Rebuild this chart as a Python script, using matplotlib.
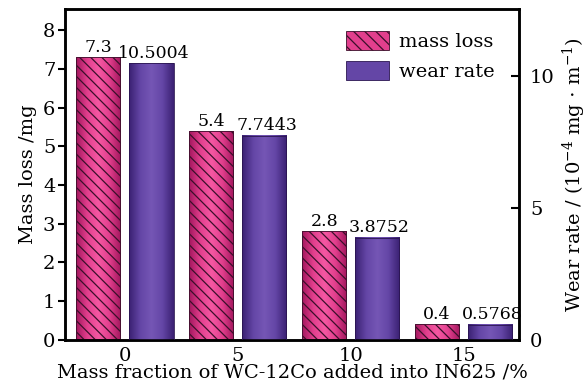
import numpy as np
import matplotlib.pyplot as plt
from matplotlib.colors import LinearSegmentedColormap
from matplotlib.patches import Patch

plt.rcParams['font.family'] = ['DejaVu Serif']
plt.rcParams['mathtext.fontset'] = 'dejavuserif'
plt.rcParams['hatch.color'] = '#3a0f2a'
plt.rcParams['hatch.linewidth'] = 0.9

# data
fractions = ['0', '5', '10', '15']
mass_loss = [7.3, 5.4, 2.8, 0.4]
wear_rate = [10.5004, 7.7443, 3.8752, 0.5768]
mass_labels = ['7.3', '5.4', '2.8', '0.4']
wear_labels = ['10.5004', '7.7443', '3.8752', '0.5768']

pink_cmap = LinearSegmentedColormap.from_list('pink', ['#a3175e', '#e23f8d', '#f558a3', '#e23f8d', '#a3175e'])
purple_cmap = LinearSegmentedColormap.from_list('purp', ['#3b2173', '#6446a6', '#7556b5', '#6446a6', '#3b2173'])
grad = np.linspace(0, 1, 64).reshape(1, -1)

fig, ax = plt.subplots(figsize=(5.87, 3.87), dpi=100)
fig.subplots_adjust(left=0.111, right=0.884, top=0.977, bottom=0.122)
ax2 = ax.twinx()

x = np.arange(len(fractions))
w = 0.39
off = 0.235
HATCH = '\\\\\\'


def gradient_bars(axis, xs, hs, cmap, hatch=None):
    for xi, h in zip(xs, hs):
        axis.imshow(grad, cmap=cmap, aspect='auto', interpolation='bicubic',
                    extent=(xi - w / 2, xi + w / 2, 0, h), zorder=2)
    axis.bar(xs, hs, width=w, facecolor='none', edgecolor='#3a0f2a' if hatch else '#2a1550',
             hatch=hatch, linewidth=0.6, zorder=3)


gradient_bars(ax, x - off, mass_loss, pink_cmap, hatch=HATCH)
gradient_bars(ax2, x + off, wear_rate, purple_cmap)

for xi, v, s in zip(x - off, mass_loss, mass_labels):
    ax.text(xi, v + 0.03, s, ha='center', va='bottom', fontsize=12.5)
for xi, v, s in zip(x + off, wear_rate, wear_labels):
    ax2.text(xi + 0.02, v + 0.05, s, ha='center', va='bottom', fontsize=12.5)

ax.set_xlim(-0.53, 3.49)
ax.set_ylim(0, 8.55)
ax2.set_ylim(0, 12.55)
ax.set_xticks(x)
ax.set_xticklabels(fractions)
ax.set_yticks(range(0, 9))
ax2.set_yticks([0, 5, 10])

ax.tick_params(axis='y', direction='out', length=5, width=1.5, labelsize=14, pad=2)
ax.tick_params(axis='x', length=0, labelsize=14, pad=5)
ax2.tick_params(axis='y', direction='in', length=6, width=1.5, labelsize=14, pad=8)

for a in (ax, ax2):
    for sp in a.spines.values():
        sp.set_linewidth(1.8)

ax.set_xlabel('Mass fraction of WC-12Co added into IN625 /%', fontsize=14, labelpad=-1)
ax.set_ylabel('Mass loss /mg', fontsize=14, labelpad=4)
ax2.set_ylabel(r'Wear rate / (10$^{-4}$ mg $\cdot$ m$^{-1}$)', fontsize=14, labelpad=4)

handles = [Patch(facecolor='#e23f8d', edgecolor='#3a0f2a', hatch=HATCH, linewidth=0.6),
           Patch(facecolor='#6446a6', edgecolor='#2a1550', linewidth=0.6)]
ax2.legend(handles, ['mass loss', 'wear rate'], loc='upper right', frameon=False,
           fontsize=14, handlelength=2.2, handleheight=1.1, handletextpad=0.5,
           borderaxespad=0.5, bbox_to_anchor=(0.985, 0.985))

fig.savefig('out.png', dpi=100)
